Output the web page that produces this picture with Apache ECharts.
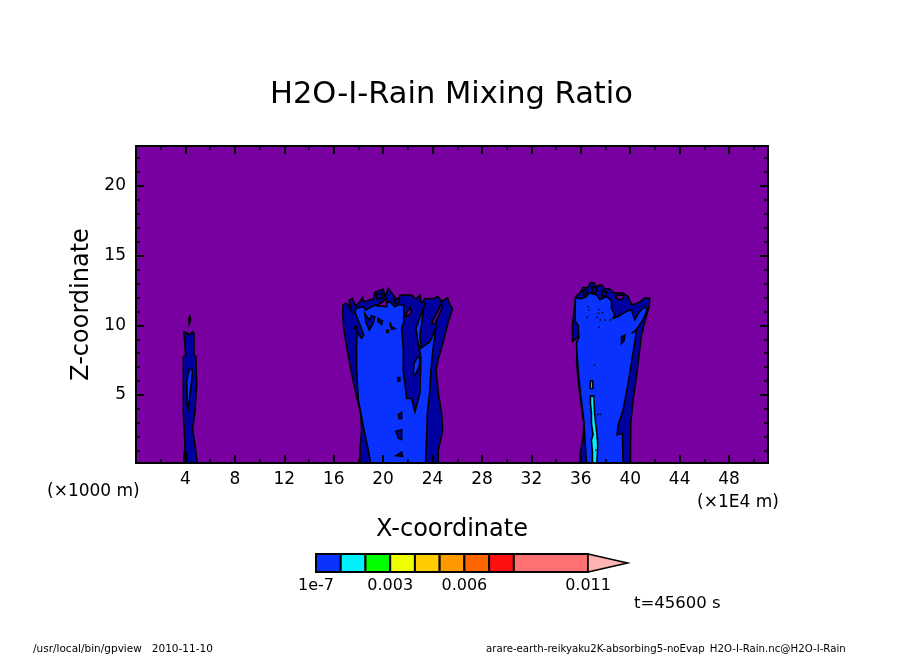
<!DOCTYPE html>
<html>
<head>
<meta charset="utf-8">
<title>H2O-I-Rain Mixing Ratio</title>
<script src="https://cdn.jsdelivr.net/npm/echarts@6/dist/echarts.min.js"></script>
<style>
  html, body { margin: 0; padding: 0; background: #fff; }
  #main { width: 904px; height: 654px; }
</style>
</head>
<body>
<div id="main"></div>
<script>
// tick positions
var xMajor = [4, 8, 12, 16, 20, 24, 28, 32, 36, 40, 44, 48];
var xMinor = [2, 6, 10, 14, 18, 22, 26, 30, 34, 38, 42, 46, 50];
var yMajor = [5, 10, 15, 20];
var yMinor = [1, 2, 3, 4, 6, 7, 8, 9, 11, 12, 13, 14, 16, 17, 18, 19, 21, 22];

// colour bar
var barLevels = [1e-7, 0.001, 0.002, 0.003, 0.004, 0.005, 0.006, 0.007, 0.008, 0.011];
var barColors = ['#0a32ff', '#00f0ff', '#00ff00', '#eeff00', '#ffcc00', '#ff9900', '#ff6600', '#ff1010', '#ff7070'];
var barTip = 0.0126;
var barTicks = [1e-7, 0.003, 0.006, 0.011];
var barTickLabels = ['1e-7', '0.003', '0.006', '0.011'];

// contour outlines, [x (1E4 m), z (1000 m)]
var cellLeftOuter = [[3.88,0.1],[3.96,1.41],[3.83,3.8],[3.83,7.75],[4.02,7.87],[3.88,9.54],[4.10,9.49],[4.31,9.3],[4.58,9.54],[4.69,9.42],[4.69,7.87],[4.85,7.75],[4.91,5.72],[4.77,3.8],[4.58,2.6],[4.77,1.41],[4.96,0.1]];
var cellLeftTop = [[4.3,10.07],[4.42,10.4],[4.36,10.65],[4.26,10.5]];
var cellLeftInner = [[4.15,4.28],[4.10,5.95],[4.29,6.79],[4.50,6.91],[4.58,6.67],[4.37,5.0],[4.23,4.04]];
var cellLeftNotch = [[3.88,0.1],[3.90,0.81],[4.10,0.81],[4.10,0.1]];

var cellMidOuter = [[18.13,0.1],[18.13,1.05],[18.26,2.49],[18.18,3.68],[17.86,4.88],[17.45,6.55],[17.10,8.23],[16.83,9.66],[16.72,10.86],[16.77,11.46],[16.9,11.57],[17.09,11.57],[17.44,11.03],[17.26,11.81],[17.52,11.93],[17.79,11.34],[18.33,11.98],[18.44,11.69],[19.2,11.89],[19.33,12.36],[20.0,12.6],[20.14,12.05],[20.41,12.65],[20.82,12.17],[21.22,11.69],[21.36,12.17],[22.30,12.17],[22.65,11.89],[22.98,12.17],[23.11,11.57],[23.38,11.93],[24.06,11.93],[24.46,12.05],[24.73,11.69],[25.22,11.98],[25.41,11.46],[25.62,11.2],[25.27,10.26],[25.0,9.3],[24.73,8.4],[24.47,7.6],[24.28,6.79],[24.47,5.12],[24.73,3.68],[24.82,2.49],[24.47,1.05],[24.47,0.1]];
var cellMidInner = [[18.99,0.1],[18.80,1.05],[18.40,2.73],[17.99,4.64],[17.86,6.79],[17.85,8.59],[17.90,9.54],[18.25,9.06],[18.44,9.3],[17.98,10.38],[17.71,10.98],[17.85,11.22],[18.39,11.34],[18.6,11.1],[19.33,11.46],[20.14,11.57],[20.55,11.69],[20.95,11.34],[21.22,11.46],[21.68,11.46],[21.68,10.26],[21.50,9.78],[21.63,8.23],[21.63,6.79],[21.90,4.76],[22.31,4.76],[22.58,3.80],[22.98,5.12],[23.06,7.70],[22.9,8.4],[22.65,9.78],[23.3,11.34],[23.0,9.3],[23.05,8.35],[23.79,8.82],[24.28,9.85],[24.06,8.47],[23.87,6.79],[23.79,5.36],[23.58,3.68],[23.52,2.01],[23.44,0.1]];
var cellMidSlit = [[22.77,7.70],[22.98,7.70],[22.93,7.03],[22.58,6.43],[22.44,6.55],[22.50,7.27]];
var cellMidHoles = [
  [[18.52,10.86],[18.87,10.38],[19.06,10.69],[19.33,10.62],[19.2,10.14],[18.87,9.66],[18.6,10.26]],
  [[19.6,10.5],[19.95,10.3],[19.87,10.07],[19.6,10.26]],
  [[20.55,10.21],[20.68,9.9],[20.95,9.78],[20.68,9.72]],
  [[20.3,9.65],[20.42,9.65],[20.42,9.5],[20.3,9.5]],
  [[17.72,9.9],[17.88,9.9],[17.88,9.75],[17.72,9.75]],
  [[21.2,6.25],[21.35,6.25],[21.35,6.0],[21.2,6.0]],
  [[21.23,3.6],[21.5,3.75],[21.5,3.3],[21.3,3.3]],
  [[21.04,2.4],[21.5,2.5],[21.5,1.8],[21.23,1.9]],
  [[21.04,0.65],[21.5,0.9],[21.58,0.6]]
];
var cellMidRidges = [
  [[19.4,12.2],[19.9,12.3],[19.95,11.95],[19.5,11.85]],
  [[20.9,11.9],[21.3,11.95],[21.25,11.6],[21.0,11.55]]
];
var cellMidGaps = [
  [[19.5,11.4],[20.28,11.9],[20.3,11.35]],
  [[22.2,11.3],[21.7,10.6],[22.0,10.7],[22.3,10.9]],
  [[23.92,10.14],[24.73,11.57],[24.75,11.2],[24.2,10.1]]
];

var cellRightOuter = [[35.92,0.1],[35.97,0.93],[36.19,2.01],[36.24,2.97],[36.05,4.16],[35.78,6.07],[35.65,7.51],[35.78,8.59],[35.97,8.82],[35.92,9.3],[35.32,8.82],[35.32,9.90],[35.43,10.86],[35.6,12.07],[35.92,12.31],[36.19,12.72],[36.59,12.72],[36.78,13.06],[37.05,13.06],[37.21,12.79],[37.67,12.91],[37.94,12.62],[38.29,12.62],[38.75,12.31],[39.43,12.31],[39.83,12.07],[40.1,11.48],[40.64,11.6],[41.18,11.96],[41.58,11.96],[41.53,11.36],[41.26,10.52],[40.91,9.32],[40.50,6.31],[40.23,4.64],[40.04,2.97],[40.02,0.1]];
var cellRightInner = [[36.46,0.1],[36.40,0.93],[36.32,2.01],[36.24,3.2],[35.97,5.12],[35.78,6.79],[35.65,8.7],[35.85,9.18],[35.78,10.0],[35.55,10.3],[35.55,11.96],[36.05,11.91],[36.73,12.31],[37.27,12.19],[37.54,11.84],[38.08,12.07],[38.48,11.76],[38.48,11.24],[38.75,10.76],[38.62,10.52],[39.02,10.64],[39.69,11.0],[40.1,11.12],[40.37,10.4],[40.77,11.0],[41.18,11.36],[41.37,11.12],[41.04,10.4],[40.5,9.7],[40.1,9.42],[40.5,9.66],[40.37,8.82],[39.83,5.83],[39.42,3.92],[39.02,2.85],[38.94,2.13],[39.37,2.25],[39.42,0.1]];
var cellRightHole = [[39.29,9.18],[39.56,9.3],[39.5,8.9],[39.29,8.7]];
var cellRightRidges = [
  [[36.2,12.5],[36.5,12.6],[36.5,12.1],[36.3,12.0]],
  [[36.9,12.8],[37.3,12.7],[37.2,12.3],[36.95,12.35]],
  [[37.7,12.5],[38.1,12.4],[38.0,12.1],[37.75,12.1]]
];
var cellRightGaps = [[38.8,12.1],[39.5,12.2],[39.4,11.9],[39.0,11.85]];
var cellRightCore = [[36.78,4.92],[37.05,4.92],[37.12,3.68],[37.2,2.96],[37.3,2.25],[37.37,1.41],[37.3,0.1],[36.94,0.1],[36.94,0.93],[36.86,1.77],[36.99,2.13],[36.86,2.96],[36.86,3.68],[36.78,4.4]];
var cellRightCoreTop = [[36.76,5.47],[36.78,6.0],[36.96,6.0],[36.98,5.47]];
var cellRightSpecks = [[36.59,11.33],[36.67,11.1],[37.48,11.14],[37.43,10.86],[37.75,10.9],[37.32,10.57],[36.51,10.57],[37.59,10.38],[37.94,10.38],[38.40,10.38],[37.48,9.85],[37.10,7.15],[37.40,3.61],[37.59,3.61],[37.21,3.33],[37.27,2.61],[37.40,1.89],[37.40,1.58],[37.21,1.05]];

var purple = '#7800a0';
var dark = '#0000a0';
var blue = '#0a32ff';
var cyan = '#00f0ff';

var contours = [];
function addContour(pts, color) { contours.push({ pts: pts, color: color }); }
addContour(cellLeftOuter, dark);
addContour(cellLeftTop, dark);
addContour(cellLeftInner, blue);
addContour(cellLeftNotch, dark);
addContour(cellMidOuter, dark);
addContour(cellMidInner, blue);
addContour(cellMidSlit, blue);
cellMidHoles.forEach(function (h) { addContour(h, dark); });
cellMidRidges.forEach(function (h) { addContour(h, dark); });
cellMidGaps.forEach(function (h) { addContour(h, purple); });
addContour(cellRightOuter, dark);
addContour(cellRightInner, blue);
addContour(cellRightHole, dark);
cellRightRidges.forEach(function (h) { addContour(h, dark); });
addContour(cellRightGaps, purple);
addContour(cellRightCore, cyan);
addContour(cellRightCoreTop, cyan);

var font = 'DejaVu Sans';

function plotAxis(pos, grid, range, ticks, len, width, labels) {
  return {
    type: 'value',
    gridIndex: grid,
    position: pos,
    min: range[0],
    max: range[1],
    z: 5,
    splitLine: { show: false },
    axisLine: { show: true, onZero: false, lineStyle: { color: '#000', width: 2 } },
    axisTick: { show: true, inside: true, length: len, customValues: ticks, lineStyle: { color: '#000', width: width } },
    axisLabel: labels
      ? { show: true, customValues: ticks, color: '#000', fontFamily: font, fontSize: 17, margin: labels }
      : { show: false }
  };
}

var xRange = [0, 51.15];
var yRange = [0.12, 22.87];
var xAxes = [
  plotAxis('bottom', 0, xRange, xMajor, 8, 2, 8),
  plotAxis('bottom', 0, xRange, xMinor, 4, 1.5),
  plotAxis('top', 0, xRange, xMajor, 8, 2),
  plotAxis('top', 0, xRange, xMinor, 4, 1.5)
];
var yAxes = [
  plotAxis('left', 0, yRange, yMajor, 8, 2, 10),
  plotAxis('left', 0, yRange, yMinor, 4, 1.5),
  plotAxis('right', 0, yRange, yMajor, 8, 2),
  plotAxis('right', 0, yRange, yMinor, 4, 1.5)
];
xAxes[0].name = 'X-coordinate';
xAxes[0].nameLocation = 'middle';
xAxes[0].nameGap = 55;
xAxes[0].nameTextStyle = { color: '#000', fontFamily: font, fontSize: 24 };
yAxes[0].name = 'Z-coordinate';
yAxes[0].nameLocation = 'middle';
yAxes[0].nameGap = 39;
yAxes[0].nameTextStyle = { color: '#000', fontFamily: font, fontSize: 24 };

// colour bar axes
xAxes.push({
  type: 'value',
  gridIndex: 1,
  min: 0,
  max: barTip,
  axisLine: { show: false },
  axisTick: { show: false },
  splitLine: { show: false },
  axisLabel: {
    show: true,
    customValues: barTicks,
    color: '#000',
    fontFamily: font,
    fontSize: 16,
    margin: 6,
    formatter: function (v) { return barTickLabels[barTicks.indexOf(v)]; }
  }
});
yAxes.push({ type: 'value', gridIndex: 1, min: 0, max: 1, show: false });

function renderContour(params, api) {
  var c = contours[api.value(0)];
  return {
    type: 'polygon',
    shape: { points: c.pts.map(function (p) { return api.coord(p); }) },
    style: { fill: c.color, stroke: '#000', lineWidth: 1.6 }
  };
}

function renderBar(params, api) {
  var i = api.value(0);
  var a = api.coord([barLevels[i], 1]);
  var b = api.coord([barLevels[i + 1], 0]);
  return {
    type: 'rect',
    shape: { x: a[0], y: a[1], width: b[0] - a[0], height: b[1] - a[1] },
    style: { fill: barColors[i], stroke: '#000', lineWidth: 2 }
  };
}

function renderTip(params, api) {
  var last = barLevels[barLevels.length - 1];
  return {
    type: 'polygon',
    shape: { points: [api.coord([last, 1]), api.coord([barTip, 0.5]), api.coord([last, 0])] },
    style: { fill: '#ffb4b4', stroke: '#000', lineWidth: 1.5 }
  };
}

function freeText(text, left, top, size) {
  return { text: text, left: left, top: top, textStyle: { color: '#000', fontFamily: font, fontWeight: 'normal', fontSize: size } };
}

var myChart = echarts.init(document.getElementById('main'), null, { renderer: 'canvas' });

var option = {
  animation: false,
  backgroundColor: '#fff',
  title: [
    freeText('H2O-I-Rain Mixing Ratio', 265, 75, 30.5),
    freeText('(\u00d71000 m)', 42, 478, 17),
    freeText('(\u00d71E4 m)', 692, 489, 17),
    freeText('t=45600 s', 629, 590, 16.5),
    freeText('/usr/local/bin/gpview   2010-11-10', 28, 639, 10.5),
    freeText('arare-earth-reikyaku2K-absorbing5-noEvap_H2O-I-Rain.nc@H2O-I-Rain', 481, 639, 10.2)
  ],
  grid: [
    { left: 136, top: 146, width: 632, height: 317, show: true, backgroundColor: purple, borderWidth: 0 },
    { left: 316, top: 554, width: 311.6, height: 18 }
  ],
  xAxis: xAxes,
  yAxis: yAxes,
  series: [
    {
      type: 'custom',
      xAxisIndex: 0,
      yAxisIndex: 0,
      clip: true,
      renderItem: renderContour,
      data: contours.map(function (c, i) { return [i]; })
    },
    {
      type: 'scatter',
      xAxisIndex: 0,
      yAxisIndex: 0,
      symbol: 'rect',
      symbolSize: 1.6,
      itemStyle: { color: '#000' },
      silent: true,
      data: cellRightSpecks
    },
    {
      type: 'custom',
      xAxisIndex: 4,
      yAxisIndex: 4,
      renderItem: renderBar,
      data: barColors.map(function (c, i) { return [i]; })
    },
    {
      type: 'custom',
      xAxisIndex: 4,
      yAxisIndex: 4,
      renderItem: renderTip,
      data: [[0]]
    }
  ]
};

myChart.setOption(option);
</script>
</body>
</html>
